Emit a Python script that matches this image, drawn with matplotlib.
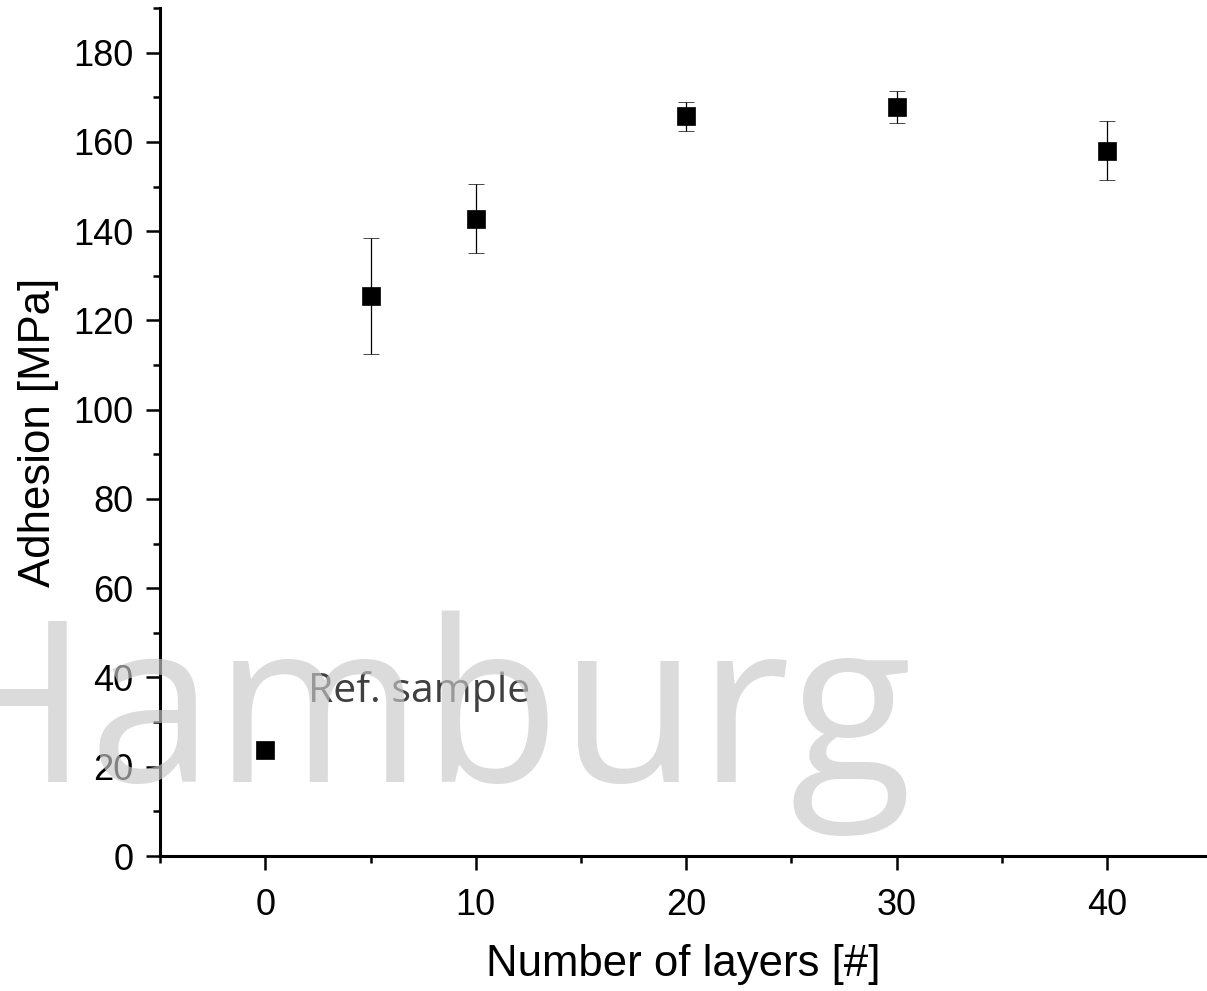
import matplotlib
matplotlib.use("Agg")
import matplotlib.pyplot as plt
from matplotlib.ticker import MultipleLocator

# Data
layers = [0, 5, 10, 20, 30, 40]
adhesion = [23.8, 125.5, 142.8, 165.7, 167.9, 158.0]
adhesion_err = [1.5, 13.0, 7.8, 3.3, 3.6, 6.6]
x_ticks = [0, 10, 20, 30, 40]
y_ticks = [0, 20, 40, 60, 80, 100, 120, 140, 160, 180]

W, H = 1207, 991
DPI = 100
fig = plt.figure(figsize=(W / DPI, H / DPI), dpi=DPI)
fig.patch.set_facecolor("white")

ax_l, ax_r, ax_t, ax_b = 160, 1207, 8, 856
ax = fig.add_axes([ax_l / W, (H - ax_b) / H, (ax_r - ax_l) / W, (ax_b - ax_t) / H])

px_per_unit = (1107 - 265) / 40.0
ax.set_xlim(-5, -5 + (ax_r - ax_l) / px_per_unit)
ax.set_ylim(0, 190)

ax.errorbar(layers, adhesion, yerr=adhesion_err, fmt="s", color="black",
            markersize=13, markeredgewidth=0.5, ecolor="black",
            elinewidth=0.9, capsize=6, capthick=0.9, zorder=3)

ax.spines["top"].set_visible(False)
ax.spines["right"].set_visible(False)
for s in ("left", "bottom"):
    ax.spines[s].set_linewidth(2.2)

ax.set_xticks(x_ticks)
ax.set_yticks(y_ticks)
ax.xaxis.set_minor_locator(MultipleLocator(5))
ax.yaxis.set_minor_locator(MultipleLocator(10))
ax.tick_params(which="major", direction="out", length=10, width=1.8)
ax.tick_params(which="minor", direction="out", length=5, width=1.8)
ax.tick_params(axis="x", which="major", pad=13)
ax.tick_params(axis="y", which="major", pad=9)

tick_font = "Liberation Sans"
for lab in ax.get_xticklabels() + ax.get_yticklabels():
    lab.set_fontfamily(tick_font)
    lab.set_fontsize(26)

ax.set_xlabel("Number of layers [#]", fontfamily=tick_font, fontsize=31.5, labelpad=15)
ax.set_ylabel("Adhesion [MPa]", fontfamily=tick_font, fontsize=31.5, labelpad=10)

# Annotation
fig.text(308 / W, (H - 702) / H, "Ref. sample", fontfamily="Open Sans",
         fontsize=29.5, color="#404040", ha="left", va="baseline", zorder=5)

# Watermark
fig.text(912 / W, (H - 782) / H, "Hamburg", fontfamily="Open Sans",
         fontsize=162, color=(0.79, 0.79, 0.79), alpha=0.65,
         ha="right", va="baseline", zorder=10)

fig.savefig("out.png", dpi=DPI, facecolor="white")
